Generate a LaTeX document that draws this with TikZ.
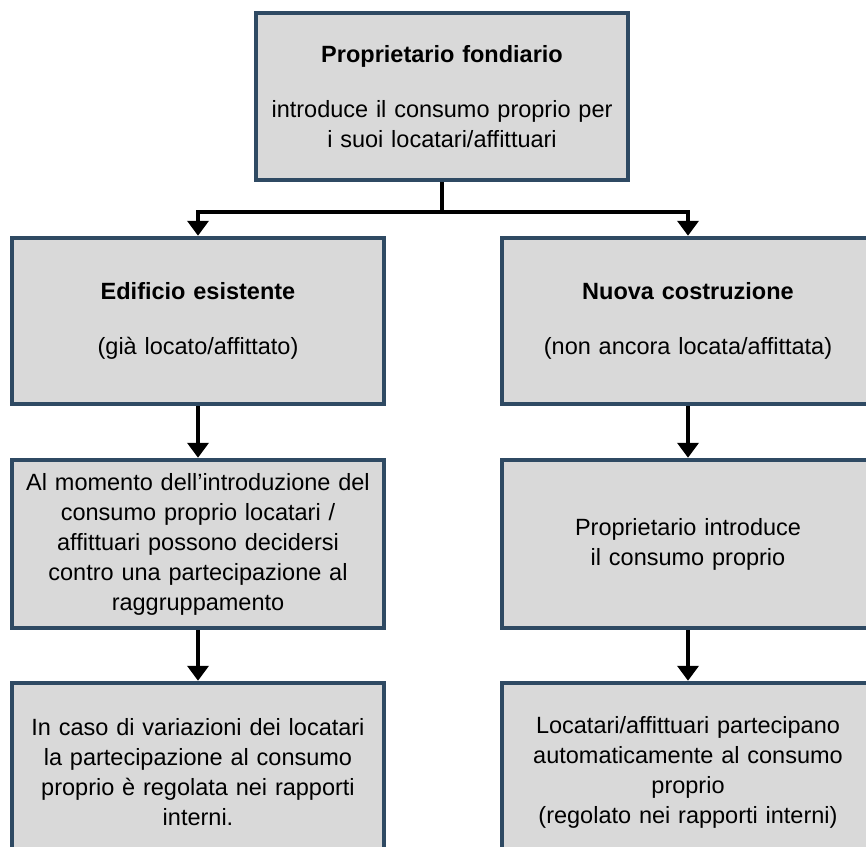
\documentclass[tikz,border=0pt]{standalone}
\usepackage{fontspec}
\setmainfont{Liberation Sans}
\usetikzlibrary{arrows.meta}
\definecolor{boxedge}{RGB}{47,74,99}
\definecolor{boxfill}{RGB}{217,217,217}
\begin{document}
\begin{tikzpicture}[x=1pt,y=-1pt,
  box/.style={draw=boxedge, fill=boxfill, line width=4.5pt, minimum width=372pt,
    inner sep=0pt, align=center, text width=368pt,
    font=\fontsize{23.5}{30}\selectfont},
  conn/.style={line width=4pt, -{Triangle[width=21pt,length=15pt]}}]
\useasboundingbox (0,0) rectangle (866,846);

% owner
\node[box, minimum height=167pt] (top) at (442,96.5)
  {\textbf{Proprietario fondiario}\\[25pt]introduce il consumo proprio per\\i suoi locatari/affittuari};

% first row
\node[box, minimum height=166pt] (l1) at (198,321)
  {\textbf{Edificio esistente}\\[25pt](già locato/affittato)};
\node[box, minimum height=166pt] (r1) at (688,321)
  {\textbf{Nuova costruzione}\\[25pt](non ancora locata/affittata)};

% second row
\node[box, minimum height=168pt] (l2) at (198,544)
  {Al momento dell’introduzione del\\consumo proprio locatari /\\affittuari possono decidersi\\contro una partecipazione al\\raggruppamento};
\node[box, minimum height=168pt] (r2) at (688,544)
  {Proprietario introduce\\il consumo proprio};

% third row
\node[box, minimum height=178pt] (l3) at (198,772)
  {In caso di variazioni dei locatari\\la partecipazione al consumo\\proprio è regolata nei rapporti\\interni.};
\node[box, minimum height=178pt] (r3) at (688,772)
  {Locatari/affittuari partecipano\\automaticamente al consumo\\proprio\\(regolato nei rapporti interni)};

% connectors
\draw[conn] (top.south) -- ++(0,30) -| (l1.north);
\draw[conn] (top.south) -- ++(0,30) -| (r1.north);
\draw[conn] (l1.south) -- (l2.north);
\draw[conn] (r1.south) -- (r2.north);
\draw[conn] (l2.south) -- (l3.north);
\draw[conn] (r2.south) -- (r3.north);
\end{tikzpicture}
\end{document}
